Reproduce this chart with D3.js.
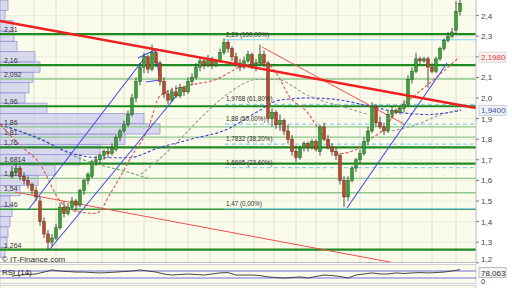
<!DOCTYPE html>
<html><head><meta charset="utf-8">
<script src="https://cdn.jsdelivr.net/npm/d3@7"></script>
<style>body{margin:0;background:#fff}svg{display:block;font-family:"Liberation Sans",Arial,sans-serif}</style>
</head><body><svg id="c" width="512" height="288"></svg>
<script>
// ---- data ----
const opens=[1.62,1.64,1.66,1.62,1.60,1.58,1.55,1.50,1.40,1.34,
1.30,1.32,1.37,1.47,1.44,1.47,1.50,1.48,1.55,1.60,
1.62,1.69,1.70,1.72,1.74,1.73,1.75,1.81,1.84,1.87,
1.92,2.00,2.08,2.15,2.20,2.14,2.22,2.17,2.08,2.02,
1.99,2.03,2.01,2.05,2.03,2.08,2.10,2.15,2.18,2.16,
2.19,2.16,2.18,2.22,2.27,2.24,2.20,2.17,2.15,2.18,
2.21,2.16,2.17,2.21,2.17,1.90,1.93,1.87,1.89,1.84,
1.80,1.74,1.71,1.76,1.78,1.76,1.79,1.74,1.86,1.80,
1.76,1.74,1.72,1.60,1.52,1.60,1.66,1.70,1.73,1.79,
1.84,1.96,1.88,1.86,1.84,1.92,1.94,1.93,1.95,1.97,
2.09,2.13,2.19,2.18,2.19,2.15,2.13,2.19,2.24,2.28,
2.30,2.33,2.42];
const highs=[1.67,1.68,1.67,1.64,1.62,1.59,1.57,1.52,1.42,1.36,
1.34,1.39,1.49,1.50,1.49,1.52,1.51,1.56,1.61,1.64,
1.70,1.72,1.73,1.75,1.76,1.78,1.82,1.85,1.89,1.94,
2.02,2.10,2.17,2.22,2.21,2.26,2.24,2.18,2.10,2.04,
2.05,2.06,2.07,2.06,2.10,2.12,2.17,2.20,2.19,2.21,
2.20,2.19,2.24,2.29,2.28,2.25,2.22,2.19,2.20,2.23,
2.22,2.19,2.26,2.23,2.18,1.95,1.94,1.92,1.90,1.87,
1.82,1.77,1.77,1.79,1.79,1.80,1.80,1.87,1.88,1.82,
1.78,1.76,1.73,1.62,1.62,1.67,1.71,1.75,1.81,1.86,
1.98,1.97,1.91,1.88,1.94,1.96,1.95,1.96,1.99,2.11,
2.15,2.22,2.20,2.20,2.20,2.17,2.20,2.25,2.29,2.32,
2.34,2.47,2.48];
const lows=[1.61,1.63,1.60,1.58,1.56,1.53,1.50,1.38,1.32,1.264,
1.28,1.31,1.36,1.42,1.43,1.46,1.45,1.47,1.53,1.58,
1.61,1.67,1.68,1.70,1.71,1.72,1.74,1.79,1.83,1.86,
1.91,1.98,2.06,2.12,2.12,2.13,2.15,2.06,2.00,1.97,
1.98,2.00,2.00,2.01,2.02,2.06,2.09,2.13,2.14,2.15,
2.14,2.15,2.17,2.21,2.22,2.18,2.15,2.13,2.14,2.17,
2.14,2.13,2.16,2.15,1.88,1.86,1.85,1.84,1.82,1.78,
1.72,1.69,1.70,1.74,1.74,1.75,1.74,1.72,1.79,1.75,
1.72,1.70,1.58,1.47,1.50,1.59,1.64,1.68,1.72,1.77,
1.83,1.86,1.85,1.82,1.83,1.90,1.92,1.92,1.93,1.96,
2.07,2.12,2.16,2.17,2.05,2.12,2.12,2.18,2.23,2.27,
2.29,2.31,2.40];
const closes=[1.64,1.66,1.62,1.60,1.58,1.55,1.52,1.40,1.34,1.30,
1.32,1.37,1.47,1.44,1.47,1.50,1.48,1.55,1.60,1.63,
1.69,1.70,1.72,1.74,1.73,1.76,1.81,1.84,1.87,1.92,
2.00,2.08,2.15,2.20,2.14,2.22,2.17,2.08,2.02,1.99,
2.03,2.01,2.05,2.03,2.08,2.10,2.15,2.18,2.16,2.19,
2.16,2.18,2.22,2.27,2.24,2.20,2.17,2.15,2.18,2.21,
2.16,2.17,2.21,2.17,1.90,1.93,1.87,1.89,1.84,1.80,
1.74,1.71,1.76,1.78,1.76,1.79,1.75,1.86,1.80,1.76,
1.74,1.72,1.60,1.52,1.60,1.66,1.70,1.73,1.79,1.84,
1.96,1.88,1.86,1.84,1.92,1.94,1.93,1.95,1.97,2.09,
2.13,2.19,2.18,2.19,2.15,2.13,2.19,2.24,2.28,2.30,
2.32,2.42,2.46];

const priceTicks=[1.2,1.3,1.4,1.5,1.6,1.7,1.8,1.9,2.0,2.1,2.2,2.3,2.4];
const gridIdx=[5.5,11,16.5,22.5,28,33,38.5,44,49.5,55.5,60.5,65.5,71,76,81.5,87,92,97.5,105,111];

const levelPrices=[2.31,2.16,2.092,1.96,1.86,1.81,1.76,1.6814,1.61,1.54,1.46,1.264];
const levelLabels=["2,31","2,16","2,092","1,96","1,86","1,81","1,76","1,6814","1,61","1,54","1,46","1,264"];
const levelKinds=["dark","dark","light","dark","light","light","dark","dark","light","light","mid","dark"];

const fibPrices=[2.29,1.9768,1.88,1.7832,1.6695,1.47];
const fibLabels=["2,29 (100,00%)","1,9768 (61,80%)","1,88 (50,00%)","1,7832 (38,20%)","1,6695 (23,60%)","1,47 (0,00%)"];
const fibStartIdx=53.25;

const profileLo=[1.225,1.275,1.325,1.375,1.425,1.475,1.525,1.575,1.625,1.675,1.725,1.775,1.825,1.875,1.925,1.975,2.025,2.075,2.125,2.175,2.225,2.275,2.325,2.375,2.425];
const profileVol=[50,70,80,100,120,100,200,380,550,800,1000,1250,1600,1440,470,250,290,330,400,350,170,140,130,50,80];

// trend lines [idx1, price1, idx2, price2]
const trendThickRed=[[-3,2.3738,116,1.9515]];
const trendThinRed=[[0.75,1.5437,95.75,1.199],[62.5,2.2476,98,1.8738]];
const trendBlue=[[4,1.4563,33.5,2.2039],[9.5,1.267,41.5,2.0194],[83.75,1.466,108.75,2.1699],[31.5,2.194,35.75,2.233],[33.5,2.078,37,2.087],[35.75,2.233,37,2.087]];

// moving averages: idx, price
const maRedIdx=[-3,2,7,12,16,21,25,30,34,37,44,51,57,61,64.5,66.5,69.25,74,77.25,81.75,86,89.5,93,96.25,100.5,105.5,111.75];
const maRedVal=[1.874,1.77,1.68,1.50,1.45,1.44,1.55,1.72,1.85,2.01,2.06,2.09,2.15,2.17,2.155,2.107,2.01,1.927,1.83,1.73,1.75,1.80,1.85,1.94,2.01,2.09,2.198];
const maGreyIdx=[32.25,40,47,53.25,58,61,66,74.25,84,89];
const maGreyVal=[1.63,1.76,1.90,2.01,2.07,2.09,2.09,2.01,1.95,1.92];
const maGrey2Idx=[95,101,106,112];
const maGrey2Val=[1.84,1.87,1.91,1.945];
const maBlueIdx=[-3,7,15.25,22,29,37,44.75,54,61,67,74.5,82,89.5,97,103.75,112.25];
const maBlueVal=[1.874,1.80,1.73,1.71,1.71,1.76,1.80,1.85,1.93,1.99,2.00,1.99,1.96,1.93,1.92,1.94];
const maGreenIdx=[-3,5,17.75,29,34];
const maGreenVal=[1.864,1.82,1.70,1.64,1.61];

const rsiVals=[41,47,50,53,64,76,70,67,64,64,61,59,61,64,67,70,76,70,64,53,47,50,53,50,47,53,59,61,47,47,47,44,36,33,30,33,36,30,39,47,44,39,30,47,53,59,53,53,59,56,59,61,59,61,64,70,78];
const rsiLevels=[70,30];

// ---- layout ----
const W=512,H=288, plotR=476, plotB=262.5;
const svg=d3.select("#c");
const x=d3.scaleLinear().domain([0,112]).range([12,460]);
const y=d3.scaleLinear().domain([1.2,2.4]).range([262.8,15.6]);
const fmt=v=>String(v).replace(".",",");

svg.append("rect").attr("x",0).attr("y",0).attr("width",W).attr("height",H).attr("fill","#ffffff");
svg.append("rect").attr("x",0).attr("y",0).attr("width",plotR).attr("height",plotB).attr("fill","#fbfbec");
svg.append("defs").append("clipPath").attr("id","clip").append("rect").attr("x",0).attr("y",0).attr("width",plotR).attr("height",plotB);
const g=svg.append("g").attr("clip-path","url(#clip)");

// grid
g.selectAll(".vg").data(gridIdx).join("line").attr("x1",d=>x(d)).attr("x2",d=>x(d)).attr("y1",0).attr("y2",plotB).attr("stroke","#e0e0cc").attr("stroke-width",1);
g.selectAll(".hg").data(priceTicks).join("line").attr("x1",0).attr("x2",plotR).attr("y1",d=>y(d)).attr("y2",d=>y(d)).attr("stroke","#ececdc").attr("stroke-width",1);

// volume profile
const vx=d3.scaleLinear().domain([0,1600]).range([0,160]);
g.selectAll(".pb").data(profileLo).join("rect").attr("x",0).attr("y",d=>y(d+0.05)).attr("width",(d,i)=>vx(profileVol[i])).attr("height",d=>y(d)-y(d+0.05))
 .attr("fill","rgba(190,190,240,0.55)").attr("stroke","#9898d6").attr("stroke-width",0.8);

// horizontal levels
const lvlStyle={dark:["#1f8a1f",2.2],mid:["#2e962e",1.5],light:["#8ec88e",1.4]};
g.selectAll(".lv").data(levelPrices).join("line").attr("x1",0).attr("x2",plotR).attr("y1",d=>y(d)).attr("y2",d=>y(d))
 .attr("stroke",(d,i)=>lvlStyle[levelKinds[i]][0]).attr("stroke-width",(d,i)=>lvlStyle[levelKinds[i]][1]);

// fib lines
g.selectAll(".fb").data(fibPrices).join("line").attr("x1",x(fibStartIdx)).attr("x2",plotR).attr("y1",d=>y(d)+1.5).attr("y2",d=>y(d)+1.5)
 .attr("stroke","#8ccff0").attr("stroke-width",1.2).attr("stroke-dasharray",(d,i)=>(i==0||i==fibPrices.length-1)?null:"4,3");

// moving averages
const ln=d3.line().x(d=>x(d[0])).y(d=>y(d[1])).curve(d3.curveMonotoneX);
function ma(idx,val,col){g.append("path").attr("d",ln(idx.map((v,i)=>[v,val[i]]))).attr("fill","none").attr("stroke",col).attr("stroke-width",1.1).attr("stroke-dasharray","3,2");}
ma(maGreenIdx,maGreenVal,"#5aa85a");
ma(maBlueIdx,maBlueVal,"#4040d8");
ma(maGreyIdx,maGreyVal,"#9a9a9a");
ma(maGrey2Idx,maGrey2Val,"#9a9a9a");
ma(maRedIdx,maRedVal,"#e05050");

// trend lines
function tl(arr,col,w){g.selectAll(null).data(arr).join("line").attr("x1",d=>x(d[0])).attr("y1",d=>y(d[1])).attr("x2",d=>x(d[2])).attr("y2",d=>y(d[3])).attr("stroke",col).attr("stroke-width",w);}
tl(trendThinRed,"#f05050",1);
tl(trendBlue,"#4a4af0",1.1);

// candles
const idx=d3.range(closes.length);
g.selectAll(".wk").data(idx).join("line").attr("x1",i=>x(i)).attr("x2",i=>x(i)).attr("y1",i=>y(highs[i])).attr("y2",i=>y(lows[i])).attr("stroke","#3a3a3a").attr("stroke-width",0.9);
g.selectAll(".bd").data(idx).join("rect").attr("x",i=>x(i)-1.4).attr("width",2.8)
 .attr("y",i=>y(Math.max(opens[i],closes[i]))).attr("height",i=>Math.max(1,Math.abs(y(opens[i])-y(closes[i]))))
 .attr("fill",i=>closes[i]>=opens[i]?"#3aa03a":"#b84a2c").attr("stroke",i=>closes[i]>=opens[i]?"#1d5e1d":"#6a2a18").attr("stroke-width",0.5);

tl(trendThickRed,"#ee2020",2.4);

// labels
const lab=svg.append("g").attr("font-size",7).attr("fill","#333");
lab.selectAll("text").data(levelPrices).join("text").attr("x",4).attr("y",d=>y(d)-2).text((d,i)=>levelLabels[i]);
svg.append("g").attr("font-size",6.3).attr("fill","#333").selectAll("text").data(fibPrices).join("text").attr("x",x(fibStartIdx)+1).attr("y",d=>y(d)-1.5).text((d,i)=>fibLabels[i]);

// right axis
svg.append("line").attr("x1",plotR).attr("x2",plotR).attr("y1",0).attr("y2",plotB).attr("stroke","#bbb");
svg.append("line").attr("x1",0).attr("x2",plotR).attr("y1",plotB).attr("y2",plotB).attr("stroke","#bbb");
const lastRed=maRedVal[maRedVal.length-1], lastBlue=maBlueVal[maBlueVal.length-1];
const boxPrices=[lastRed,lastBlue];
const visTicks=priceTicks.filter(t=>boxPrices.every(b=>Math.abs(y(t)-y(b))>6));
const ax=svg.append("g");
ax.selectAll("line").data(priceTicks).join("line").attr("x1",plotR).attr("x2",plotR+3).attr("y1",d=>y(d)).attr("y2",d=>y(d)).attr("stroke","#777");
ax.selectAll("text").data(visTicks).join("text").attr("x",481).attr("y",d=>Math.min(y(d),259)+3).attr("font-size",8).attr("fill","#444").text(d=>d.toFixed(1).replace(".",","));

// value boxes
svg.append("rect").attr("x",479).attr("y",y(lastRed)-5).attr("width",27).attr("height",10).attr("fill","#fdf2f2").attr("stroke","#ddd");
svg.append("text").attr("x",481).attr("y",y(lastRed)+3).attr("font-size",8).attr("fill","#e03535").text(lastRed.toFixed(4).replace(".",","));
svg.append("rect").attr("x",479).attr("y",y(lastBlue)-5).attr("width",27).attr("height",10).attr("fill","#eef2fa").attr("stroke","#ccd");
svg.append("text").attr("x",481).attr("y",y(lastBlue)+3).attr("font-size",8).attr("fill","#3a55a0").text(lastBlue.toFixed(4).replace(".",","));

svg.append("text").attr("x",2).attr("y",262).attr("font-size",8).attr("fill","#333").text("© IT-Finance.com");

// RSI panel
const rT=264.5,rB=283.5;
svg.append("rect").attr("x",0).attr("y",rT).attr("width",plotR).attr("height",rB-rT).attr("fill","#fbfbec").attr("stroke","#c8c8c8").attr("stroke-width",0.8);
const ry=d3.scaleLinear().domain([0,100]).range([283.25,265.75]);
const rx=i=>x(i*2);
svg.selectAll(".rl").data(rsiLevels).join("line").attr("x1",0).attr("x2",plotR).attr("y1",d=>ry(d)).attr("y2",d=>ry(d)).attr("stroke","#7070e0").attr("stroke-width",1);
svg.append("path").attr("d",d3.line().x((d,i)=>rx(i)).y(d=>ry(d))(rsiVals)).attr("fill","none").attr("stroke","#333").attr("stroke-width",0.9);
svg.append("text").attr("x",2).attr("y",275).attr("font-size",8).attr("fill","#222").text("RSI (14)");
svg.append("text").attr("x",481).attr("y",284).attr("font-size",7.5).attr("fill","#444").text("0");
const lastRsi=78.063;
svg.append("rect").attr("x",479).attr("y",267.5).attr("width",27).attr("height",10).attr("fill","#f4f4f4").attr("stroke","#bbb");
svg.append("text").attr("x",481).attr("y",275.5).attr("font-size",8).attr("fill","#333").text(fmt(lastRsi));

// bottom panel start
svg.append("rect").attr("x",0).attr("y",285.5).attr("width",plotR).attr("height",4).attr("fill","#fbfbec").attr("stroke","#c8c8c8").attr("stroke-width",0.8);
</script></body></html>
